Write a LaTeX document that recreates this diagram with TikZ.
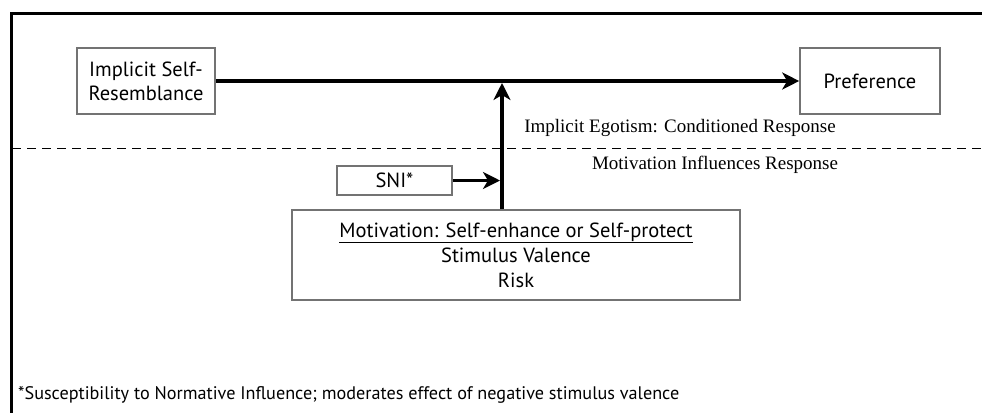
\documentclass[tikz,border=0pt]{standalone}
\usepackage{fontspec}
\setmainfont{PT Sans}
\newfontfamily\serifl{Liberation Serif}
\usetikzlibrary{arrows.meta}
\begin{document}
\begin{tikzpicture}[x=1pt,y=-1pt,
  box/.style={draw=black!55,line width=1.6pt,inner sep=0pt,align=center,font=\fontsize{20.5}{24}\selectfont},
  thick arrow/.style={line width=3.8pt,-{Stealth[length=17pt,width=17pt,inset=5pt]}},
  lbl/.style={font=\serifl\fontsize{19}{21}\selectfont,inner sep=0pt}]
\useasboundingbox (0,0) rectangle (982,413);
\fill[white] (0,0) rectangle (982,413);
\draw[line width=3pt] (982,13) -- (11.5,13) -- (11.5,413);
\node[box,minimum width=138pt,minimum height=66pt] (isr) at (146,81) {Implicit Self-\\Resemblance};
\node[box,minimum width=140pt,minimum height=66pt] (pref) at (870,81) {Preference};
\node[box,minimum width=115pt,minimum height=29pt] (sni) at (394.5,180.5) {SNI*};
\node[box,minimum width=448pt,minimum height=90pt,font=\fontsize{20.5}{25}\selectfont] (mot) at (516,255) {\underline{Motivation: Self-enhance or Self-protect}\\Stimulus Valence\\Risk};
\coordinate (join) at (502,83);
\draw[thick arrow] (isr.east) -- (pref.west);
\draw[thick arrow] (mot.north -| join) -- (join);
\draw[thick arrow] (sni.east) -- ([xshift=-2pt]sni.east -| join);
\draw[dashed,line width=1pt,dash pattern=on 9pt off 6pt] (12,148) -- (982,148);
\node[lbl] (ie) at (680,128) {Implicit Egotism: Conditioned Response};
\node[lbl] (mir) at (715,165) {Motivation Influences Response};
\node[anchor=west,inner sep=0pt,font=\fontsize{18.2}{20}\selectfont] (fn) at (18,395) {*Susceptibility to Normative Influence; moderates effect of negative stimulus valence};
\end{tikzpicture}
\end{document}
